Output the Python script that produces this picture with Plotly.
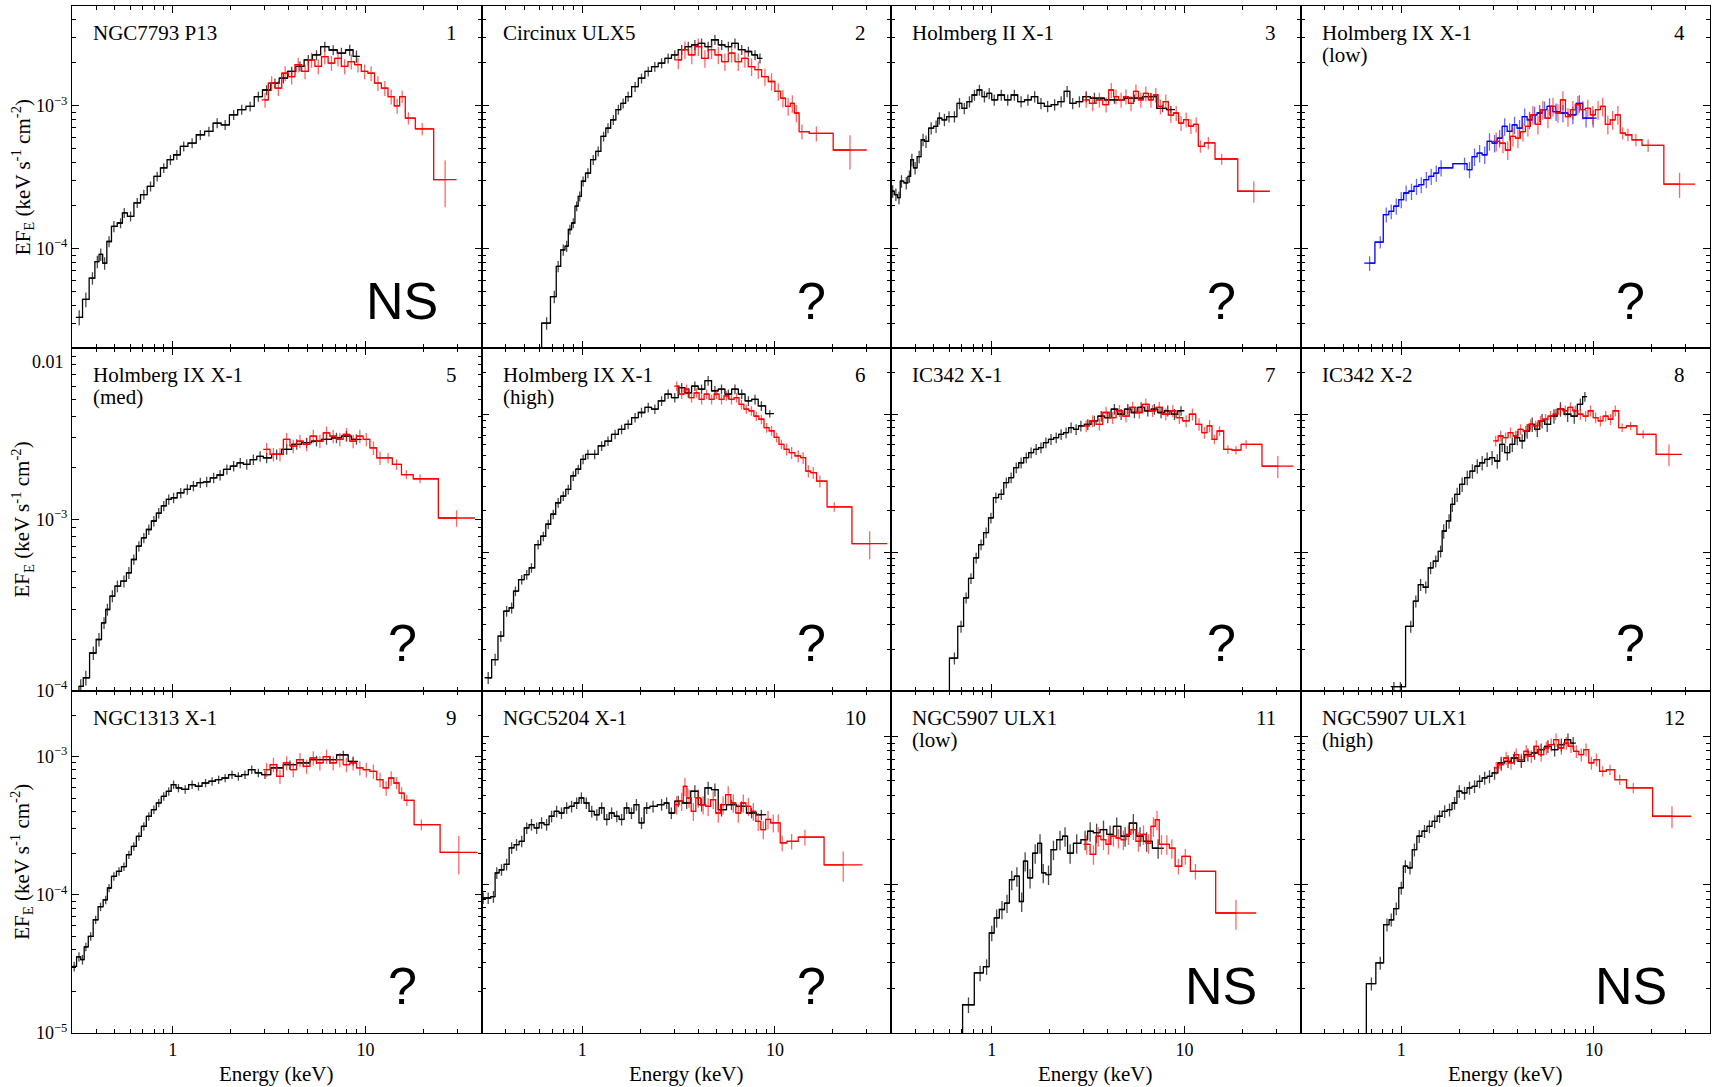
import numpy as np
import plotly.graph_objects as go
from plotly.subplots import make_subplots

UNIT = 1e-4  # flux lists below are in units of 1e-4 keV s^-1 cm^-2

# ---------------- Panel 1: NGC7793 P13 ----------------
P1_K_E = [0.327,0.354,0.383,0.406,0.423,0.443,0.467,0.495,0.536,0.56,0.604,0.654,0.708,0.767,0.83,0.898,0.972,1.05,1.14,1.26,1.39,1.54,1.70,1.87,2.07,2.28,2.52,2.78,3.07,3.39,3.75,4.14,4.57,5.05,5.57,6.15,6.8,7.5,8.28,8.98]
P1_K_F = [0.33,0.44,0.62,0.81,0.91,0.79,1.12,1.43,1.51,1.78,1.68,2.09,2.39,2.73,3.2,3.67,4.19,4.54,5.2,5.48,6.27,6.61,7.56,7.36,8.65,9.4,9.9,11.6,12.9,14.4,15.6,17.4,18.9,21.0,22.7,26.0,24.6,23.4,24.6,22.2]
P1_K_D = [12,12,10,10,10,10,9,9,8,8,8,8,8,8,8,8,8,8,8,8,8,8,8,8,8,8,8,8,8,8,8,8,8,8,8,8,8,9,9,10]
P1_R_E = [3.01,3.26,3.53,3.83,4.14,4.48,4.86,5.25,5.69,6.15,6.66,7.2,7.8,8.44,9.14,9.9,10.7,11.6,12.6,13.6,14.6,15.5,16.7,19.7,25.9]
P1_R_F = [11.0,14.4,13.3,16.9,16.0,19.4,17.4,21.0,18.9,22.1,19.9,21.5,18.9,20.4,19.4,17.4,16.9,14.4,13.3,11.6,10.0,11.6,8.2,6.9,3.04]
P1_R_D = [12,12,12,12,12,12,12,12,12,12,12,12,12,12,12,12,12,12,12,12,12,10,10,10,36]

# ---------------- Panel 2: Circinux ULX5 ----------------
P2_K_E = [0.58,0.653,0.716,0.75,0.797,0.83,0.863,0.898,0.935,0.97,1.01,1.07,1.14,1.21,1.29,1.36,1.45,1.54,1.63,1.73,1.88,2.03,2.2,2.38,2.58,2.79,3.02,3.28,3.55,3.84,4.16,4.5,4.88,5.29,5.73,6.2,6.72,7.28,7.88,8.36]
P2_K_F = [0.1,0.30,0.46,0.75,0.98,1.04,1.36,1.51,1.98,2.32,2.96,3.38,4.19,4.8,6.1,6.98,7.98,9.4,10.4,11.6,13.6,15.6,17.4,18.8,19.9,21.5,22.7,24.7,26.0,26.7,27.4,26.0,29.0,26.7,26.0,27.4,24.7,24.0,22.7,21.5]
P2_K_D = [0,10,10,9,9,9,8,8,8,8,8,8,8,8,8,8,8,8,8,8,8,8,8,8,8,8,8,8,8,8,8,8,8,8,8,8,8,8,8,8]
P2_R_E = [3.15,3.41,3.7,4.0,4.33,4.69,5.08,5.5,5.96,6.45,6.98,7.56,8.19,8.87,9.6,10.4,11.0,11.7,12.3,12.9,13.8,16.4,24.5]
P2_R_F = [21.0,24.7,22.7,26.0,21.5,24.7,22.7,20.4,23.4,20.4,21.5,18.8,17.9,16.0,14.8,12.6,11.3,9.9,10.4,8.9,6.6,6.4,4.9]
P2_R_D = [14,14,14,14,14,14,14,14,14,14,14,14,14,14,14,14,14,14,14,14,12,12,27]

# ---------------- Panel 3: Holmberg II X-1 ----------------
P3_K_E = [0.306,0.318,0.33,0.34,0.36,0.374,0.385,0.40,0.42,0.44,0.456,0.485,0.514,0.535,0.568,0.60,0.64,0.68,0.72,0.766,0.813,0.863,0.916,0.97,1.03,1.12,1.21,1.31,1.42,1.54,1.67,1.8,1.95,2.12,2.29,2.46,2.63,2.85,3.09,3.41,4.33,5.5,6.7,7.7,8.5]
P3_K_F = [2.52,2.39,2.27,2.96,2.88,3.2,4.19,3.67,4.4,5.78,5.63,6.98,7.17,8.2,7.98,8.4,8.4,10.4,9.6,10.7,11.9,12.9,11.6,12.2,11.0,11.9,11.0,11.9,10.7,11.0,11.6,10.4,9.9,10.2,10.7,12.6,10.4,10.7,11.6,11.3,11.0,11.3,11.6,9.6,9.4]
P3_K_D = [10,10,10,10,10,10,10,10,10,10,10,10,10,10,10,9,9,9,9,9,9,9,9,9,9,9,9,9,9,9,9,9,9,9,9,9,9,9,9,9,6,6,6,6,6]
P3_R_E = [3.09,3.34,3.62,3.92,4.17,4.41,4.69,4.97,5.28,5.6,5.94,6.3,6.7,7.1,7.5,8.0,8.5,9.06,9.6,10.2,10.8,11.5,12.1,13.3,15.6,22.9]
P3_R_F = [11.0,10.4,11.0,10.2,12.9,11.6,11.0,11.6,10.4,12.6,11.0,12.2,11.0,11.9,9.9,10.7,8.6,8.9,7.56,8.0,7.2,7.4,5.2,5.5,4.24,2.52]
P3_R_D = [12,12,12,12,12,12,12,12,12,12,12,12,12,12,12,12,12,12,12,12,12,12,10,10,9,17]

# ---------------- Panel 4: Holmberg IX X-1 (low) ----------------
P4_B_E = [0.685,0.778,0.836,0.887,0.942,1.0,1.06,1.13,1.2,1.27,1.35,1.43,1.52,1.61,2.13,2.26,2.4,2.55,2.71,2.87,3.05,3.24,3.44,3.65,3.87,4.11,4.37,4.63,4.92,5.22,5.54,5.88,6.36,6.9,7.77,8.4,9.1,9.9]
P4_B_F = [0.79,1.11,1.73,1.82,1.98,2.2,2.45,2.52,2.73,2.8,3.04,3.2,3.38,3.67,3.93,3.57,4.4,4.66,4.54,5.63,5.48,5.94,7.17,6.61,7.36,6.98,8.4,7.98,8.65,8.9,9.4,9.9,9.1,8.9,8.65,10.4,8.2,8.2]
P4_B_D = [12,10,12,12,13,13,13,13,13,13,13,13,13,13,10,13,14,14,14,14,14,14,14,14,14,14,14,14,14,14,14,14,14,14,14,14,14,14]
P4_R_E = [3.11,3.37,3.57,3.8,4.03,4.28,4.54,4.82,5.12,5.43,5.77,6.13,6.5,6.9,7.33,7.77,8.25,8.76,9.29,9.86,10.5,11.1,11.8,12.5,13.3,14.1,15.0,16.5,19.1,27.8]
P4_R_F = [5.63,5.48,4.9,6.1,5.94,6.6,7.17,8.65,7.4,9.4,8.2,9.9,8.9,11.0,8.4,9.4,10.2,9.4,9.6,8.65,9.4,9.9,7.4,7.98,8.65,6.44,6.27,5.78,5.28,2.83]
P4_R_D = [15,15,15,15,15,15,15,15,15,15,15,15,15,15,15,15,15,15,15,15,15,15,15,15,15,10,10,10,10,20]

# ---------------- Panel 5: Holmberg IX X-1 (med) ----------------
P5_K_E = [0.319,0.333,0.354,0.387,0.414,0.44,0.458,0.486,0.516,0.558,0.592,0.628,0.667,0.708,0.751,0.798,0.846,0.898,0.953,1.01,1.1,1.19,1.28,1.39,1.5,1.63,1.76,1.91,2.07,2.24,2.42,2.62,2.84,3.07,3.46,3.9,4.4,4.95,5.57,6.28,7.07,7.97,8.98]
P5_K_F = [0.8,1.06,1.19,1.66,1.99,2.49,2.98,3.57,4.08,4.36,4.88,5.84,6.98,7.8,8.74,9.8,10.9,12.0,13.1,13.4,14.3,15.0,15.7,16.4,16.6,17.5,18.2,19.6,20.5,21.4,21.0,22.4,23.4,22.9,24.0,25.7,27.5,28.1,28.7,29.4,30.0,30.7,29.4]
P5_K_D = [0,10,10,9,9,8,8,8,8,8,8,7,7,7,7,7,7,7,7,7,7,7,7,7,7,7,7,7,7,7,7,7,7,7,7,7,7,7,7,7,7,7,7]
P5_R_E = [3.07,3.33,3.6,3.9,4.22,4.57,4.95,5.36,5.8,6.28,6.8,7.36,7.97,8.63,9.35,10.1,11.0,11.9,13.1,14.5,16.3,19.2,29.7]
P5_R_F = [25.7,24.0,24.0,29.4,26.8,28.7,27.5,30.7,28.7,32.1,30.7,29.4,31.4,28.7,30.7,29.4,26.2,22.9,22.9,21.0,18.3,17.3,10.2]
P5_R_D = [9,9,9,9,9,9,9,9,9,9,9,9,9,9,9,9,9,9,7,7,6,6,11]

# ---------------- Panel 6: Holmberg IX X-1 (high) ----------------
P6_K_E = [0.325,0.353,0.378,0.405,0.43,0.45,0.485,0.515,0.545,0.59,0.628,0.666,0.707,0.75,0.797,0.846,0.898,0.953,1.01,1.07,1.16,1.26,1.36,1.48,1.6,1.73,1.88,2.03,2.2,2.38,2.58,2.79,3.02,3.28,3.55,3.84,4.16,4.5,4.88,5.28,5.73,6.2,6.72,7.28,7.88,8.5,9.4]
P6_K_F = [1.24,1.68,2.48,3.76,3.98,5.25,6.37,6.91,7.74,11.4,13.1,16.0,18.9,22.9,25.6,28.6,35.8,40.0,47.2,51.3,51.3,59.0,64.0,71.6,77.8,84.6,94.6,103,112,109,125,140,132,156,143,160,152,175,148,152,140,152,140,125,128,115,101]
P6_K_D = [10,10,9,9,9,8,8,8,8,8,8,8,8,8,8,8,8,8,8,8,8,8,8,8,8,8,8,8,8,8,8,8,8,8,8,8,8,8,8,8,8,8,8,8,8,8,6]
P6_R_E = [3.09,3.28,3.48,3.69,3.92,4.16,4.42,4.69,4.98,5.28,5.6,5.95,6.32,6.7,7.1,7.55,8.0,8.5,9.05,9.6,10.2,10.8,11.5,12.2,13.2,14.0,14.9,15.8,17.1,20.3,31.0]
P6_R_F = [160,140,152,132,143,128,140,128,140,128,136,128,132,118,109,106,97,92,80,76,68,60.6,55.8,52.7,50,48.5,38.8,37.8,32.8,21.4,11.6]
P6_R_D = [8,8,8,8,8,8,8,8,8,8,8,8,8,8,8,8,8,8,8,8,8,8,10,10,10,10,10,10,10,8,23]

# ---------------- Panel 7: IC342 X-1 ----------------
P7_K_E = [0.568,0.64,0.693,0.736,0.78,0.83,0.88,0.935,0.99,1.05,1.12,1.19,1.26,1.34,1.42,1.51,1.6,1.7,1.8,1.91,2.03,2.16,2.29,2.43,2.58,2.74,2.9,3.15,3.41,3.7,4.0,4.33,4.69,5.08,5.5,5.96,6.45,6.98,7.56,8.19,8.87,9.6]
P7_K_F = [0.08,0.172,0.292,0.47,0.65,0.914,1.14,1.39,1.78,2.49,2.63,3.2,3.48,4.11,4.46,4.85,5.27,5.58,5.73,6.23,6.59,6.77,7.16,7.36,8.0,7.78,8.23,8.46,8.95,9.7,9.46,10.9,10.0,10.9,10.3,11.2,10.6,10.9,10.3,10.6,10.0,10.6]
P7_K_D = [0,10,10,9,9,9,9,9,9,9,9,9,9,9,9,9,9,9,9,9,9,9,9,9,9,9,9,9,9,9,9,9,9,9,9,9,9,9,9,9,9,8]
P7_R_E = [3.09,3.34,3.62,3.92,4.24,4.6,4.97,5.38,5.83,6.3,6.83,7.4,8.0,8.7,9.4,10.2,11.0,11.9,12.7,13.5,14.3,15.2,16.8,18.5,20.9,30.5]
P7_R_F = [8.23,8.95,8.46,10.3,9.46,10.6,9.7,11.2,10.3,11.8,10.6,11.2,10.0,10.6,9.46,8.95,10.0,8.46,7.36,8.23,6.59,7.57,5.58,5.5,6.06,4.22]
P7_R_D = [10,10,10,10,10,10,10,10,10,10,10,10,10,10,10,10,10,10,10,10,8,8,7,7,7,18]

# ---------------- Panel 8: IC342 X-2 ----------------
P8_K_E = [0.916,0.99,1.12,1.19,1.26,1.34,1.42,1.51,1.6,1.66,1.77,1.84,1.95,2.07,2.2,2.34,2.48,2.63,2.79,2.96,3.15,3.34,3.55,3.77,4.0,4.24,4.5,4.78,5.08,5.38,5.72,6.2,6.7,7.3,7.9,8.5,8.97]
P8_K_F = [0.107,0.107,0.292,0.444,0.585,0.56,0.774,0.866,1.02,1.43,1.69,2.23,2.63,3.11,3.48,3.88,4.22,4.46,4.72,4.85,4.59,6.06,5.27,6.06,6.77,6.41,7.57,8.46,7.78,8.95,8.46,9.7,10.9,10.0,9.7,11.8,13.4]
P8_K_D = [8,8,10,10,10,10,10,10,10,12,12,12,12,12,12,12,12,12,12,12,12,12,12,12,12,12,12,12,12,12,12,12,12,12,12,10,8]
P8_R_E = [3.09,3.28,3.48,3.69,3.92,4.16,4.42,4.69,4.98,5.28,5.6,5.95,6.32,6.7,7.1,7.55,8.0,8.5,9.05,9.6,10.2,10.8,11.5,12.2,12.9,14.0,15.5,18.0,24.5]
P8_R_F = [6.41,6.96,6.77,7.36,6.96,7.78,7.57,8.46,8.23,8.95,9.2,9.7,10.0,10.9,10.6,11.2,10.6,10.0,9.7,10.6,9.46,8.95,9.7,9.2,10.6,8.0,8.23,7.16,5.13]
P8_R_D = [9,9,9,9,9,9,9,9,9,9,9,9,9,9,9,9,9,9,9,9,9,9,9,9,9,7,7,7,18]

# ---------------- Panel 9: NGC1313 X-1 ----------------
P9_K_E = [0.308,0.326,0.34,0.354,0.375,0.398,0.422,0.449,0.467,0.495,0.526,0.558,0.592,0.628,0.667,0.708,0.751,0.798,0.846,0.898,0.953,1.01,1.07,1.16,1.26,1.36,1.48,1.6,1.73,1.87,2.03,2.19,2.37,2.57,2.78,3.01,3.46,4.06,4.76,5.57,6.54,7.67,8.63]
P9_K_F = [0.303,0.356,0.34,0.42,0.5,0.66,0.82,0.92,1.12,1.36,1.48,1.6,1.95,2.24,2.65,3.13,3.7,4.13,4.62,5.16,5.61,6.27,5.93,5.8,6.27,6.1,6.44,6.63,6.81,7.0,7.41,7.2,7.41,8.05,7.62,7.41,8.28,8.75,9.0,9.5,9.5,10.3,9.25]
P9_K_D = [8,8,8,7,7,7,7,7,7,7,7,7,7,7,7,7,7,7,7,7,7,7,7,7,7,7,7,7,7,7,7,7,7,7,7,7,7,7,7,7,7,7,7]
P9_R_E = [3.07,3.33,3.6,3.9,4.22,4.57,4.95,5.36,5.8,6.28,6.8,7.36,7.97,8.63,9.35,10.1,11.0,11.9,12.8,13.6,14.5,15.4,16.4,19.5,30.5]
P9_R_F = [8.05,8.75,7.2,9.0,8.05,9.5,8.51,9.78,9.0,10.0,9.0,9.5,8.75,9.0,8.28,8.05,7.83,6.81,5.93,7.0,6.44,5.45,4.83,3.22,2.03]
P9_R_D = [12,12,12,12,12,12,12,12,12,12,12,12,12,12,12,12,12,12,12,12,10,10,9,9,31]

# ---------------- Panel 10: NGC5204 X-1 ----------------
P10_K_E = [0.306,0.325,0.346,0.36,0.381,0.405,0.43,0.456,0.485,0.515,0.545,0.58,0.615,0.653,0.693,0.736,0.78,0.83,0.88,0.935,0.99,1.05,1.12,1.19,1.26,1.34,1.42,1.51,1.6,1.7,1.8,1.91,2.03,2.16,2.33,2.58,2.74,2.9,3.15,3.48,3.84,4.16,4.5,4.88,5.28,5.95,6.7,7.56,8.5]
P10_K_F = [0.813,0.813,0.83,1.2,1.26,1.37,1.77,1.86,1.96,2.41,2.54,2.41,2.61,2.54,2.89,3.12,3.04,3.29,3.37,3.55,3.84,3.55,3.12,2.96,3.29,2.75,3.04,2.89,2.75,3.29,3.04,3.46,2.61,3.29,3.37,3.46,3.55,3.04,3.65,3.55,4.26,3.46,4.49,4.37,3.2,3.46,3.37,3.04,2.96]
P10_K_D = [9,9,9,9,9,9,9,9,9,9,9,9,9,9,9,9,9,9,9,9,9,9,9,9,9,9,9,9,9,9,9,9,9,9,9,9,9,9,9,9,10,10,10,10,10,8,8,8,8]
P10_R_E = [3.09,3.28,3.41,3.58,3.77,4.0,4.24,4.5,4.78,5.08,5.38,5.72,6.08,6.45,6.85,7.28,7.72,8.19,8.7,9.2,9.8,10.4,10.9,12.2,14.3,22.6]
P10_R_F = [3.46,3.65,4.6,3.84,3.12,3.84,3.46,3.37,3.74,3.04,3.46,4.04,3.55,3.04,3.55,3.37,3.12,2.67,2.35,2.75,2.61,2.61,1.91,1.96,2.09,1.36]
P10_R_D = [14,14,14,14,14,14,14,14,14,14,14,14,14,14,14,14,14,14,14,14,14,14,12,12,12,23]

# ---------------- Panel 11: NGC5907 ULX1 (low) ----------------
P11_K_E = [0.658,0.757,0.87,0.94,1.0,1.06,1.13,1.2,1.27,1.35,1.43,1.49,1.58,1.68,1.78,1.85,1.97,2.09,2.26,2.4,2.55,2.76,3.05,3.24,3.5,3.8,4.11,4.45,4.92,5.43,5.88,6.36,7.3]
P11_K_F = [0.08,0.155,0.254,0.28,0.472,0.597,0.68,0.75,1.08,1.14,0.77,1.44,1.11,1.63,1.9,1.2,1.17,1.72,2.01,2.12,1.63,1.9,2.01,2.29,2.24,2.35,2.18,2.47,2.12,2.6,2.12,1.96,1.76]
P11_K_D = [0,12,12,12,12,14,14,14,15,15,15,15,15,15,15,15,15,15,15,15,15,15,15,15,15,15,15,15,15,15,15,15,15]
P11_R_E = [3.11,3.37,3.57,3.8,4.03,4.28,4.54,4.82,5.12,5.43,5.77,6.13,6.5,6.9,7.2,7.6,8.1,8.6,9.3,10.1,11.4,18.5]
P11_R_F = [1.87,1.6,2.12,2.01,1.87,2.12,2.06,2.01,2.18,2.35,1.96,2.18,1.9,2.47,2.74,1.87,1.87,1.76,1.33,1.55,1.23,0.644]
P11_R_D = [15,15,15,15,15,15,15,15,15,15,15,15,15,15,15,15,15,15,12,12,12,23]

# ---------------- Panel 12: NGC5907 ULX1 (high) ----------------
P12_K_E = [0.62,0.70,0.778,0.843,0.887,0.942,1.0,1.05,1.11,1.17,1.24,1.32,1.4,1.49,1.58,1.68,1.78,1.89,2.0,2.13,2.26,2.4,2.55,2.71,2.87,3.05,3.3,3.58,3.87,4.2,4.54,4.92,5.32,5.77,6.25,6.77,7.33,7.8]
P12_K_F = [0.08,0.215,0.297,0.537,0.58,0.69,0.95,1.33,1.3,1.72,2.12,2.29,2.47,2.67,2.89,3.12,3.2,3.55,4.26,4.15,4.49,4.6,4.97,5.24,5.37,5.66,6.61,6.78,7.14,6.78,7.52,7.72,8.13,8.56,8.13,8.79,9.5,9.0]
P12_K_D = [0,10,10,10,10,10,10,10,10,10,10,10,10,10,10,10,10,10,10,10,10,10,10,10,10,10,10,10,10,10,10,10,10,10,10,10,10,10]
P12_R_E = [3.11,3.3,3.5,3.71,3.95,4.2,4.45,4.73,5.02,5.32,5.66,6.0,6.36,6.77,7.19,7.6,8.1,8.6,9.1,9.7,10.3,11.1,12.1,13.6,16.0,25.4]
P12_R_F = [6.12,6.44,7.14,6.61,7.52,6.96,7.92,7.33,8.56,7.52,8.34,8.79,9.5,8.34,9.0,8.56,7.92,7.52,8.13,6.61,6.96,5.81,5.96,5.1,4.49,2.89]
P12_R_D = [10,10,10,10,10,10,10,10,10,10,10,10,10,10,10,10,10,10,10,10,10,8,8,8,8,17]

TITLES = [("NGC7793 P13", ""), ("Circinux ULX5", ""), ("Holmberg II X-1", ""), ("Holmberg IX X-1", "(low)"),
          ("Holmberg IX X-1", "(med)"), ("Holmberg IX X-1", "(high)"), ("IC342 X-1", ""), ("IC342 X-2", ""),
          ("NGC1313 X-1", ""), ("NGC5204 X-1", ""), ("NGC5907 ULX1", "(low)"), ("NGC5907 ULX1", "(high)")]
VERDICTS = ["NS", "?", "?", "?", "?", "?", "?", "?", "?", "?", "NS", "NS"]

# y-axis ranges per panel (data units)
YRANGES = [(2e-5, 5e-3)] * 4 + [(1e-4, 1e-2), (1e-4, 3e-2), (1e-5, 3e-3), (1e-5, 3e-3),
                                (1e-5, 3e-3), (1e-5, 2.03e-3), (1e-5, 2.03e-3), (1e-5, 2.03e-3)]
XRANGE = (0.3, 40.0)

BLACK, RED, BLUE = "#000000", "#ff0000", "#0000ff"
SERIES = [
    [(P1_K_E, P1_K_F, P1_K_D, BLACK), (P1_R_E, P1_R_F, P1_R_D, RED)],
    [(P2_K_E, P2_K_F, P2_K_D, BLACK), (P2_R_E, P2_R_F, P2_R_D, RED)],
    [(P3_K_E, P3_K_F, P3_K_D, BLACK), (P3_R_E, P3_R_F, P3_R_D, RED)],
    [(P4_B_E, P4_B_F, P4_B_D, BLUE), (P4_R_E, P4_R_F, P4_R_D, RED)],
    [(P5_K_E, P5_K_F, P5_K_D, BLACK), (P5_R_E, P5_R_F, P5_R_D, RED)],
    [(P6_K_E, P6_K_F, P6_K_D, BLACK), (P6_R_E, P6_R_F, P6_R_D, RED)],
    [(P7_K_E, P7_K_F, P7_K_D, BLACK), (P7_R_E, P7_R_F, P7_R_D, RED)],
    [(P8_K_E, P8_K_F, P8_K_D, BLACK), (P8_R_E, P8_R_F, P8_R_D, RED)],
    [(P9_K_E, P9_K_F, P9_K_D, BLACK), (P9_R_E, P9_R_F, P9_R_D, RED)],
    [(P10_K_E, P10_K_F, P10_K_D, BLACK), (P10_R_E, P10_R_F, P10_R_D, RED)],
    [(P11_K_E, P11_K_F, P11_K_D, BLACK), (P11_R_E, P11_R_F, P11_R_D, RED)],
    [(P12_K_E, P12_K_F, P12_K_D, BLACK), (P12_R_E, P12_R_F, P12_R_D, RED)],
]
ERRCOL = {BLACK: "rgba(40,40,40,0.85)", RED: "rgba(255,0,0,0.6)", BLUE: "rgba(0,0,255,0.6)"}

W, H = 1719, 1087
ML, MR, MT, MB = 72, 9, 6, 54
PW = (W - ML - MR) / 4.0
PH = (H - MT - MB) / 3.0

fig = make_subplots(rows=3, cols=4, horizontal_spacing=0, vertical_spacing=0)


def bin_edges(e):
    mid = np.sqrt(e[:-1] * e[1:])
    lo = np.concatenate([[e[0] ** 2 / mid[0]], mid])
    hi = np.concatenate([mid, [e[-1] ** 2 / mid[-1]]])
    return lo, hi


for i, series in enumerate(SERIES):
    r, c = i // 4 + 1, i % 4 + 1
    for E, F, D, col in series:
        n = min(len(E), len(F), len(D))
        e = np.array(E[:n], float)
        f = np.array(F[:n], float) * UNIT
        d = np.array(D[:n], float) / 100.0 * f
        lo, hi = bin_edges(e)
        fig.add_trace(go.Scatter(
            x=e, y=f, mode="lines",
            line=dict(color=col, width=1.3, shape="hvh"),
            error_y=dict(type="data", array=d, visible=True, color=ERRCOL[col], thickness=1.3, width=0),
            error_x=dict(type="data", symmetric=False, array=hi - e, arrayminus=e - lo, visible=True,
                         color=col, thickness=1.3, width=0),
            showlegend=False, hoverinfo="skip"), row=r, col=c)


def sup(n):
    return "10<sup>\u2212%d</sup>" % n


x_minor = [k * 10.0 ** p for p in (-1, 0, 1) for k in range(2, 10) if XRANGE[0] < k * 10.0 ** p < XRANGE[1]]
TICKFONT = dict(family="Liberation Serif", size=18, color="black")

for i in range(12):
    r, c = i // 4 + 1, i % 4 + 1
    y0, y1 = YRANGES[i]
    fig.update_xaxes(row=r, col=c, type="log", range=[np.log10(XRANGE[0]), np.log10(XRANGE[1])],
                     showline=True, linecolor="black", linewidth=1.0, mirror="ticks",
                     ticks="inside", ticklen=7, tickwidth=1.2, tickcolor="black",
                     tickmode="array", tickvals=[1, 10], ticktext=["1", "10"],
                     showticklabels=(r == 3), tickfont=TICKFONT, showgrid=False, zeroline=False,
                     minor=dict(tickmode="array", tickvals=x_minor, ticks="inside", ticklen=4,
                                tickwidth=1, tickcolor="black", showgrid=False))
    majors, minors = [], []
    for p in range(-7, 0):
        for k in range(1, 10):
            v = k * 10.0 ** p
            if y0 * 0.999 <= v <= y1 * 1.001:
                (majors if k == 1 else minors).append(v)
    texts = [("" if abs(v - 1e-2) < 1e-9 else sup(int(round(-np.log10(v))))) for v in majors]
    fig.update_yaxes(row=r, col=c, type="log", range=[np.log10(y0), np.log10(y1)],
                     showline=True, linecolor="black", linewidth=1.0, mirror="ticks",
                     ticks="inside", ticklen=7, tickwidth=1.2, tickcolor="black",
                     tickmode="array", tickvals=majors, ticktext=texts,
                     showticklabels=(c == 1), tickfont=TICKFONT, showgrid=False, zeroline=False,
                     minor=dict(tickmode="array", tickvals=minors, ticks="inside", ticklen=4,
                                tickwidth=1, tickcolor="black", showgrid=False))

ann = []
LABFONT = dict(family="Liberation Serif", size=21, color="black")
for i in range(12):
    r, c = i // 4 + 1, i % 4 + 1
    idx = "" if i == 0 else str(i + 1)
    xr, yr = "x%s domain" % idx, "y%s domain" % idx
    t1, t2 = TITLES[i]
    ann.append(dict(xref=xr, yref=yr, x=19 / PW, y=1 - 27 / PH, xanchor="left", yanchor="middle",
                    text=t1, showarrow=False, font=LABFONT))
    if t2:
        ann.append(dict(xref=xr, yref=yr, x=19 / PW, y=1 - 49 / PH, xanchor="left", yanchor="middle",
                        text=t2, showarrow=False, font=LABFONT))
    ann.append(dict(xref=xr, yref=yr, x=1 - 23 / PW, y=1 - 27 / PH, xanchor="right", yanchor="middle",
                    text=str(i + 1), showarrow=False, font=LABFONT))
    ann.append(dict(xref=xr, yref=yr, x=330 / PW, y=1 - 295 / PH, xanchor="center", yanchor="middle",
                    text=VERDICTS[i], showarrow=False,
                    font=dict(family="Liberation Sans", size=52, color="black")))
    if c == 1:
        ann.append(dict(xref="paper", yref=yr, x=(22 - ML) / (W - ML - MR), y=0.5, xanchor="center",
                        yanchor="middle", textangle=-90, showarrow=False, font=LABFONT,
                        text="EF<sub>E</sub> (keV s<sup>-1</sup> cm<sup>-2</sup>)"))
    if r == 3:
        ann.append(dict(xref=xr, yref="paper", x=0.5, y=(H - MB - 1074) / (H - MT - MB), xanchor="center",
                        yanchor="middle", showarrow=False, font=LABFONT, text="Energy (keV)"))

# "0.01" label of row 2, placed just inside the top of the panel as in the original
ann.append(dict(xref="paper", yref="paper", x=(66 - ML) / (W - ML - MR), y=(H - MB - 362) / (H - MT - MB),
                xanchor="right", yanchor="middle", showarrow=False, font=TICKFONT, text="0.01"))

fig.update_layout(width=W, height=H, margin=dict(l=ML, r=MR, t=MT, b=MB),
                  plot_bgcolor="white", paper_bgcolor="white", showlegend=False,
                  font=dict(family="Liberation Serif", color="black"), annotations=ann)

fig.write_html("out.html", config={"displayModeBar": False},
               post_script="document.body.style.margin='0px';document.body.style.padding='0px';"
                           "document.body.style.overflow='hidden';")
